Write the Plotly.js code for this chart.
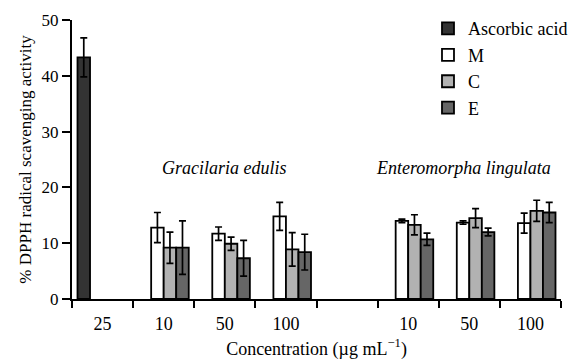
<!DOCTYPE html>
<html>
<head>
<meta charset="utf-8">
<script src="https://cdn.plot.ly/plotly-3.0.1.min.js"></script>
<style>html,body{margin:0;padding:0;background:#fff;}#chart{width:574px;height:360px;}</style>
</head>
<body>
<div id="chart"></div>
<script>
const categories = ['25', '10', '50', '100', '', '10', '50', '100'];
const seriesNames = ['Ascorbic acid', 'M', 'C', 'E'];
const ascorbic    = [43.3, null, null, null, null, null, null, null];
const ascorbicErr = [3.5, null, null, null, null, null, null, null];
const mValues = [null, 12.8, 11.7, 14.8, null, 14.0, 13.7, 13.6];
const mErr    = [null, 2.7, 1.2, 2.5, null, 0.3, 0.3, 1.8];
const cValues = [null, 9.2, 9.9, 8.9, null, 13.3, 14.5, 15.8];
const cErr    = [null, 2.8, 1.2, 3.0, null, 1.8, 1.7, 1.9];
const eValues = [null, 9.2, 7.3, 8.4, null, 10.7, 12.0, 15.5];
const eErr    = [null, 4.8, 3.2, 3.2, null, 1.1, 0.7, 1.8];
const groupLabels = ['Gracilaria edulis', 'Enteromorpha lingulata'];
const yTicks = [0, 10, 20, 30, 40, 50];

const xIdx = categories.map((_, i) => i);
const fills = ['#333333', '#ffffff', '#b2b2b2', '#666666'];
const vals = [ascorbic, mValues, cValues, eValues];
const errs = [ascorbicErr, mErr, cErr, eErr];

const traces = vals.map((v, k) => ({
  type: 'bar',
  name: seriesNames[k],
  x: xIdx,
  y: v,
  marker: {color: fills[k], line: {color: '#000', width: 1.8}},
  error_y: {type: 'data', array: errs[k], visible: true, color: '#000', thickness: 1.7, width: 3.5}
}));

const FAM = 'Liberation Serif, Times New Roman, serif';
function f(size, extra) { return Object.assign({family: FAM, size: size, color: '#000'}, extra || {}); }

const layout = {
  width: 574, height: 360,
  margin: {l: 72, r: 1, t: 20, b: 61},
  paper_bgcolor: '#fff', plot_bgcolor: '#fff',
  font: f(16),
  barmode: 'group',
  bargap: 0.18,
  bargroupgap: 0,
  showlegend: true,
  legend: {
    x: 0.728, y: 1.035, xanchor: 'left', yanchor: 'top',
    bgcolor: 'rgba(0,0,0,0)', borderwidth: 0,
    font: f(18),
    itemwidth: 30, tracegroupgap: 0
  },
  xaxis: {
    range: [-0.5, 7.5],
    tickmode: 'array', tickvals: xIdx, ticktext: categories,
    ticks: '', showgrid: false, zeroline: false,
    showline: true, linecolor: '#000', linewidth: 2,
    tickfont: f(18),
    ticklabelstandoff: 7,
    minor: {tick0: -0.5, dtick: 1, ticks: 'outside', ticklen: 7, tickwidth: 2, tickcolor: '#000', showgrid: false},
    title: {text: 'Concentration (\u00b5g mL<sup>\u2212</sup><sup>1</sup>)', font: f(18), standoff: 16},
    fixedrange: true
  },
  yaxis: {
    range: [0, 50],
    tickmode: 'array', tickvals: yTicks,
    ticks: 'outside', ticklen: 8, tickwidth: 2, tickcolor: '#000',
    showgrid: false, zeroline: false,
    showline: true, linecolor: '#000', linewidth: 2,
    tickfont: f(17),
    title: {text: '% DPPH radical scavenging activity', font: f(17), standoff: 6},
    fixedrange: true
  },
  annotations: [
    {x: 1.99, y: 23.5, xref: 'x', yref: 'y', text: groupLabels[0], showarrow: false,
     font: f(18, {style: 'italic'})},
    {x: 5.9, y: 23.5, xref: 'x', yref: 'y', text: groupLabels[1], showarrow: false,
     font: f(18, {style: 'italic'})}
  ]
};

Plotly.newPlot('chart', traces, layout, {displayModeBar: false, staticPlot: true});
</script>
</body>
</html>
